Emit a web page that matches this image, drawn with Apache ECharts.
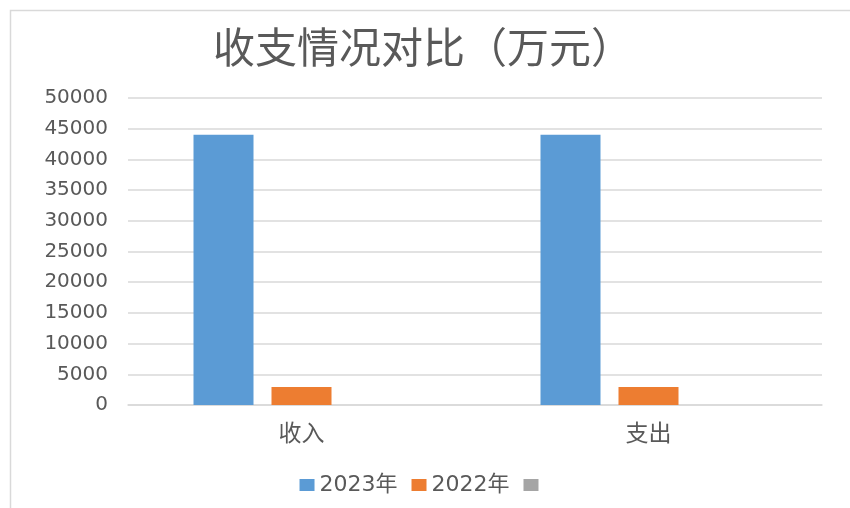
<!DOCTYPE html>
<html>
<head>
<meta charset="utf-8">
<script src="https://cdn.jsdelivr.net/npm/echarts@6/dist/echarts.min.js"></script>
<style>html,body{margin:0;padding:0;background:#fff}#c{width:850px;height:508px}</style>
</head>
<body>
<div id="c"></div>
<script>
var categories = ['收入', '支出'];
var seriesNames = ['2023年', '2022年', ' '];
var values2023 = [44000, 44000];
var values2022 = [2950, 2950];
var values3 = [0, 0];
var yTicks = [0, 50000, 5000];

var chart = echarts.init(document.getElementById('c'));
var font = '"DejaVu Sans", "Noto Sans CJK SC", sans-serif';
chart.setOption({
  backgroundColor: '#fff',
  animation: false,
  graphic: [{
    type: 'rect', left: 8, top: 8,
    shape: { width: 900, height: 600 },
    style: { fill: 'none', stroke: '#d9d9d9', lineWidth: 1.5 },
    silent: true
  }],
  title: {
    text: '收支情况对比（万元）',
    left: 208, top: 21,
    textStyle: { fontSize: 42, fontWeight: 'normal', color: '#595959', fontFamily: '"Noto Sans CJK SC", sans-serif' }
  },
  legend: {
    data: seriesNames,
    left: 'center', top: 469,
    itemWidth: 15, itemHeight: 12, itemGap: 14,
    icon: 'rect',
    textStyle: { fontSize: 22, color: '#595959', fontFamily: font }
  },
  grid: { left: 128, right: 28, top: 98, bottom: 103, containLabel: false },
  xAxis: {
    type: 'category', data: categories,
    axisLine: { lineStyle: { color: '#d9d9d9', width: 1.5 } },
    axisTick: { show: false },
    axisLabel: { fontSize: 23, color: '#595959', margin: 16, fontFamily: '"Noto Sans CJK SC", sans-serif' }
  },
  yAxis: {
    type: 'value', min: yTicks[0], max: yTicks[1], interval: yTicks[2],
    axisLine: { show: false }, axisTick: { show: false },
    splitLine: { lineStyle: { color: '#d9d9d9', width: 1.5 } },
    axisLabel: { fontSize: 20, color: '#595959', margin: 20, fontFamily: font, formatter: function (v) { return String(v); } }
  },
  series: [
    { name: seriesNames[0], type: 'bar', data: values2023, barWidth: 60, barGap: '30%', itemStyle: { color: '#5b9bd5' } },
    { name: seriesNames[1], type: 'bar', data: values2022, barWidth: 60, barGap: '30%', itemStyle: { color: '#ed7d31' } },
    { name: seriesNames[2], type: 'bar', data: values3, barWidth: 60, barGap: '30%', itemStyle: { color: '#a5a5a5' } }
  ]
});
</script>
</body>
</html>
